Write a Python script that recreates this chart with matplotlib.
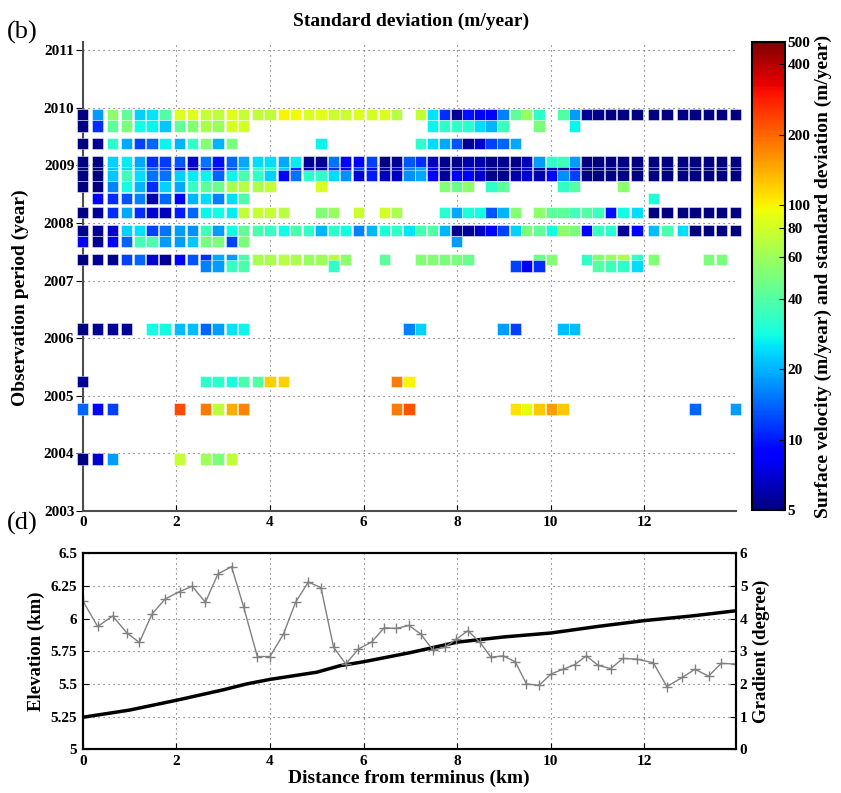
import numpy as np
import matplotlib
matplotlib.use('Agg')
import matplotlib.pyplot as plt
from matplotlib.colors import LogNorm
from matplotlib.ticker import FormatStrFormatter

_ = np.nan

# sample points along the flow line (km from terminus)
dist_km = [0.00, 0.32, 0.64, 0.94, 1.21, 1.48, 1.76, 2.07, 2.34, 2.62,
           2.89, 3.18, 3.44, 3.73, 4.00, 4.29, 4.55, 4.82, 5.09, 5.36,
           5.62, 5.89, 6.17, 6.44, 6.70, 6.97, 7.22, 7.48, 7.73, 7.98,
           8.23, 8.49, 8.72, 8.98, 9.24, 9.48, 9.75, 10.01, 10.26, 10.51,
           10.76, 11.01, 11.28, 11.54, 11.84, 12.19, 12.48, 12.81, 13.08, 13.37,
           13.64, 13.95]

# standard deviation (m/year) per observation period row
sd_2009_88 = [5, 18, 55, 43, 23, 25, 40, 87, 87, 75,
              72, 88, 75, 72, 72, 100, 97, 85, 88, 78,
              78, 85, 82, 85, 68, _, 75, 25, 11, 5.5,
              9.5, 8.5, 8.3, 16, 42, 58, 32, _, 40, 18,
              5.5, 5.3, 5, 5, 5, 5, 5, 5, 5, 5,
              5, 5]
sd_2009_69 = [5, 11, 42, 50, 28, 27, 22, 43, 52, 65,
              58, 82, 80, _, _, _, _, _, _, _,
              _, _, _, _, _, _, _, 27, 33, 33,
              32, 24, 20, 35, _, _, 50, _, _, 27,
              _, _, _, _, _, _, _, _, _, _,
              _, _]
sd_2009_38 = [5, 5.5, 32, 19, 12, 14, 27, 20, 33, 52,
              20, 50, _, _, _, _, _, _, 27, _,
              _, _, _, _, _, _, 32, 24, 19, 13,
              5.5, 7, 12, 14, 19, _, _, _, _, _,
              _, _, _, _, _, _, _, _, _, _,
              _, _]
sd_2008_94 = [5, 5, 22, 24, 21, 14, 12, 7, 6, 11,
              9, 13, 21, 33, 33, 23, 11, 6, 6, 11,
              8.5, 12, 9, 5.5, 6.5, 16, 19, 9, 5.5, 5.3,
              8, 7, 5.5, 5.3, 5.3, 7, 5.5, 6.5, 5.5, 8,
              5, 5, 5, 5, 5, 5, 5, 5, 5, 5,
              5, 5]
sd_2009_06 = [5, 5, 23, 26, 19, 11, 11.5, 13, 7, 15,
              9.5, 14, 19, 24, 24, 19, 26, 5.5, 5.5, 15,
              9, 8.3, 12, 5, 5.5, 13, 11, 6.5, 5.3, 5.3,
              6, 6, 5.3, 5.3, 5.3, 6.5, 18, 33, 35, 18,
              5, 5, 5, 5, 5, 5, 5, 5, 5, 5,
              5, 5]
sd_2008_82 = [5, 5, 22, 36, 24, 15, 15, 23, 26, 27,
              14, 27, 38, 33, 23, 8.5, 15, 32, 33, 24,
              17, 7, 10, 6.5, 6.5, 17, 19, 8, 5.5, 8.5,
              8.5, 7, 5.3, 5.3, 6, 7, 6, 9, 17, 12,
              5, 5, 5, 5, 5, 5, 5, 5, 5, 5,
              5, 5]
sd_2008_63 = [5, 5, 16, 28, 20, 11, 23, 19, 34, 42,
              45, 65, 70, 65, 75, _, _, _, 85, _,
              _, _, _, _, _, _, _, _, 52, 45,
              55, _, 33, 42, _, _, _, _, 33, 40,
              _, _, _, 55, _, _, _, _, _, _,
              _, _]
sd_2008_43 = [_, 8.5, 11, 13, 16, 6, 14, 8.5, 20, 24,
              16, 24, 38, _, _, _, _, _, _, _,
              _, _, _, _, _, _, _, _, _, _,
              _, _, _, _, _, _, _, _, _, _,
              _, _, _, _, _, 30, _, _, _, _,
              _, _]
sd_2008_18 = [5, 5.5, 11, 19, 11, 7, 6.5, 10, 14, 27,
              28, 26, 72, 75, 75, 70, _, _, 52, 58,
              _, 78, _, 80, 65, _, _, _, 31, 19,
              30, 28, 13, 20, 52, _, 55, 42, 42, 36,
              40, 35, 9.5, 28, 24, 5, 5, 5, 5, 5,
              5, 5]
sd_2007_87 = [5.5, 5.5, 7, 23, 24, 12, 15, 18, 17, 36,
              18, 28, 42, 38, 34, 28, 38, 33, 20, 32,
              28, 16, 20, 30, 33, 25, 38, 40, 20, 5.5,
              5.5, 6.5, 8.3, 12, 23, 50, 43, 28, 55, 50,
              9, 34, 31, 5.5, 8.3, 21, 38, 24, 5, 5,
              5, 5]
sd_2007_67 = [8, 5.5, 8.3, 14, 36, 38, 18, 18, 22, 48,
              50, 12, 50, _, _, _, _, _, _, _,
              _, _, _, _, _, _, _, _, _, 18,
              _, _, _, _, _, _, _, _, _, _,
              _, _, _, _, _, _, _, _, _, _,
              _, _]
sd_2007_37 = [5, 5.5, 5.3, 12, 14, 7, 5.5, 8.3, 13, 11,
              19, 18, 38, 65, 65, 70, 65, 58, 60, 70,
              55, _, _, 42, _, _, 52, 52, 50, 50,
              45, _, _, _, _, _, 45, 52, _, _,
              33, 52, 58, 65, 33, 52, _, _, _, 50,
              50, _]
sd_2007_25 = [_, _, _, _, _, _, _, _, _, 16,
              18, 34, 38, _, _, _, _, _, _, 33,
              _, _, _, _, _, _, _, _, _, _,
              _, _, _, _, 12, 8, 11, _, _, _,
              _, 40, 35, 32, 24, _, _, _, _, _,
              _, _]
sd_2006_16 = [5, 5.5, 5.5, 5.5, _, 28, 28, 21, 21, 14,
              18, 25, 27, _, _, _, _, _, _, _,
              _, _, _, _, _, 16, 23, _, _, _,
              _, _, _, 18, 12, _, _, _, 21, 21,
              _, _, _, _, _, _, _, _, _, _,
              _, _]
sd_2005_24 = [5.5, _, _, _, _, _, _, _, _, 32,
              32, 29, 38, 40, 120, 120, _, _, _, _,
              _, _, _, _, 180, 100, _, _, _, _,
              _, _, _, _, _, _, _, _, _, _,
              _, _, _, _, _, _, _, _, _, _,
              _, _]
sd_2004_77 = [14, 8.5, 12, _, _, _, _, 230, _, 180,
              72, 140, 175, _, _, _, _, _, _, _,
              _, _, _, _, 180, 220, _, _, _, _,
              _, _, _, _, 110, 92, 125, 155, 125, _,
              _, _, _, _, _, _, _, _, 14, _,
              _, 18]
sd_2003_90 = [5, 7, 18, _, _, _, _, 75, _, 62,
              50, 72, _, _, _, _, _, _, _, _,
              _, _, _, _, _, _, _, _, _, _,
              _, _, _, _, _, _, _, _, _, _,
              _, _, _, _, _, _, _, _, _, _,
              _, _]

# drawing order matters where rows overlap
period_rows = [(2009.884, sd_2009_88), (2009.687, sd_2009_69), (2009.375, sd_2009_38),
               (2008.94, sd_2008_94), (2009.062, sd_2009_06), (2008.819, sd_2008_82),
               (2008.628, sd_2008_63), (2008.431, sd_2008_43), (2008.182, sd_2008_18),
               (2007.869, sd_2007_87), (2007.672, sd_2007_67), (2007.371, sd_2007_37),
               (2007.25, sd_2007_25), (2006.156, sd_2006_16), (2005.243, sd_2005_24),
               (2004.768, sd_2004_77), (2003.90, sd_2003_90)]

# surface elevation profile (km)
elev_dist = [0, 1, 2, 3, 3.5, 4, 5, 5.5, 6, 7, 8, 9, 10, 11, 12, 13, 13.95]
elev_km = [5.245, 5.30, 5.375, 5.455, 5.50, 5.535, 5.59, 5.64, 5.67, 5.74,
           5.82, 5.86, 5.89, 5.94, 5.985, 6.02, 6.06]

# surface gradient (degree) at dist_km
grad_deg = [4.55, 3.76, 4.08, 3.57, 3.27, 4.14, 4.60, 4.83, 4.99, 4.50,
            5.37, 5.59, 4.35, 2.84, 2.84, 3.53, 4.51, 5.12, 4.95, 3.12,
            2.61, 3.07, 3.28, 3.72, 3.70, 3.79, 3.53, 3.04, 3.12, 3.37,
            3.63, 3.27, 2.82, 2.86, 2.68, 2.00, 1.96, 2.31, 2.45, 2.59,
            2.86, 2.57, 2.47, 2.78, 2.76, 2.65, 1.92, 2.20, 2.45, 2.24,
            2.63, 2.61]

cbar_ticks = [5, 10, 20, 40, 60, 80, 100, 200, 400, 500]

plt.rcParams['font.family'] = ['Liberation Serif', 'DejaVu Serif']
plt.rcParams['font.weight'] = 'bold'
plt.rcParams['axes.labelweight'] = 'bold'
plt.rcParams['font.size'] = 11

W, H = 841, 793
fig = plt.figure(figsize=(W / 100, H / 100), dpi=100)

def frac(x0, y0, x1, y1):
    return [x0 / W, 1 - y1 / H, (x1 - x0) / W, (y1 - y0) / H]

grid_kw = dict(linestyle=(0, (1, 3.5)), color='0.35', linewidth=0.8)

# ---- top panel: std dev map
ax = fig.add_axes(frac(82.7, 41.7, 735.7, 510.7))
norm = LogNorm(vmin=5, vmax=500)
x = np.array(dist_km)
for yr, vals in period_rows:
    v = np.array(vals, dtype=float)
    m = ~np.isnan(v)
    sc = ax.scatter(x[m], np.full(m.sum(), yr), c=v[m], cmap='jet', norm=norm,
                    marker='s', s=66, edgecolors=(1, 1, 1, 0.55), linewidths=0.6,
                    clip_on=False, zorder=3)
ax.set_xlim(0, 13.95)
ax.set_ylim(2003, 2011.15)
ax.set_xticks(range(0, 13, 2))
ax.set_yticks(range(2003, 2012))
ax.set_axisbelow(True)
ax.grid(True, **grid_kw)
for s in ['top', 'right']:
    ax.spines[s].set_visible(False)
for s in ['left', 'bottom']:
    ax.spines[s].set_color('0.3')
    ax.spines[s].set_linewidth(1.5)
ax.tick_params(axis='y', direction='out', length=5, pad=1)
ax.tick_params(axis='x', direction='in', length=4, pad=4)
ax.set_ylabel('Observation period (year)', fontsize=14)
ax.yaxis.set_label_coords(-0.082, 0.455)

fig.text(0.489, 1 - 21 / H, 'Standard deviation (m/year)', ha='center', va='center',
         fontsize=14, fontweight='bold')
fig.text(0.008, 1 - 32 / H, '(b)', ha='left', va='center', fontsize=19, fontweight='normal')
fig.text(0.008, 1 - 523 / H, '(d)', ha='left', va='center', fontsize=19, fontweight='normal')

cax = fig.add_axes(frac(752, 41.7, 785, 510.2))
cb = fig.colorbar(sc, cax=cax)
cb.ax.minorticks_off()
cb.set_ticks(cbar_ticks)
cb.set_ticklabels([str(t) for t in cbar_ticks])
cb.ax.tick_params(direction='in', length=4, pad=2, labelsize=11)
cb.outline.set_linewidth(1.5)
cb.set_label('Surface velocity (m/year) and standard deviation (m/year)',
             fontsize=14, labelpad=3)

# ---- bottom panel: elevation and gradient
ax3 = fig.add_axes(frac(82.7, 553.3, 735.7, 749.3))
ax3.plot(elev_dist, elev_km, color='k', lw=2.5, zorder=3)
ax3.set_xlim(0, 13.95)
ax3.set_ylim(5, 6.5)
ax3.set_yticks([5, 5.25, 5.5, 5.75, 6, 6.25, 6.5])
ax3.yaxis.set_major_formatter(FormatStrFormatter('%g'))
ax3.set_xticks(range(0, 13, 2))
ax3.grid(True, **grid_kw)
ax3.tick_params(direction='in', length=4, pad=4)
ax3.set_ylabel('Elevation (km)', fontsize=13.5, labelpad=4)
ax3.set_xlabel('Distance from terminus (km)', fontsize=14, labelpad=1)
for s in ax3.spines.values():
    s.set_linewidth(1.5)

ax4 = ax3.twinx()
ax4.plot(dist_km, grad_deg, color='0.5', lw=1, marker='+', ms=7, mew=1)
ax4.set_ylim(0, 6)
ax4.set_yticks(range(0, 7))
ax4.tick_params(direction='in', length=4, pad=3)
ax4.set_ylabel('Gradient (degree)', fontsize=13.5, labelpad=4)
for s in ax4.spines.values():
    s.set_linewidth(1.5)

fig.savefig('out.png', dpi=100)
